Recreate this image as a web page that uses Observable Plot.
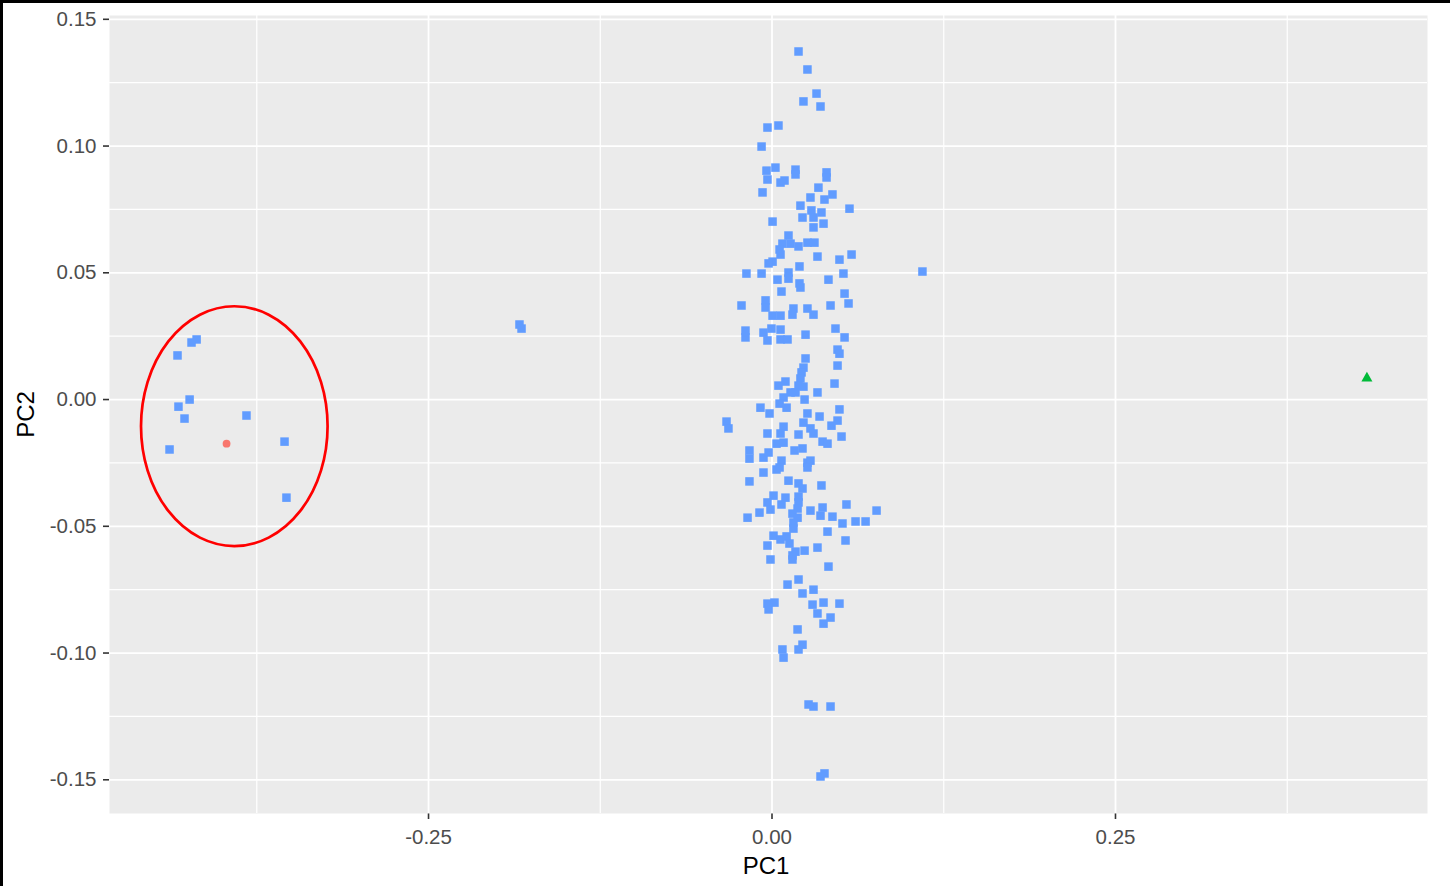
<!DOCTYPE html>
<html>
<head>
<meta charset="utf-8">
<script src="https://cdn.jsdelivr.net/npm/d3@7"></script>
<script src="https://cdn.jsdelivr.net/npm/@observablehq/plot@0.6"></script>
<style>
html, body { margin: 0; padding: 0; background: #fff; }
#wrap { position: relative; width: 1450px; height: 886px; overflow: hidden; }
#chart { position: absolute; left: 0; top: 0; }
.bt { position: absolute; left: 0; top: 0; width: 1450px; height: 3px; background: #000; }
.bl { position: absolute; left: 0; top: 0; width: 3px; height: 886px; background: #000; }
</style>
</head>
<body>
<div id="wrap"><div id="chart"></div><div class="bt"></div><div class="bl"></div></div>
<script>
// ---- Data ----
const pc1Blue = [
  0.0193, 0.0258, 0.0324, 0.0229, 0.0353, -0.0033, 0.0047, -0.0076, -0.0040, 0.0025,
  -0.0033, 0.0062, 0.0091, 0.0171, 0.0171, 0.0397, 0.0397, -0.0069, 0.0338, 0.0280,
  0.0440, 0.0382, 0.0207, 0.0564, 0.0287, 0.0360, 0.0222, 0.0302, 0.0375, 0.0004,
  0.0302, 0.0120, 0.0076, 0.0135, 0.0193, 0.0258, 0.0309, 0.0055, 0.0062, 0.0331,
  0.0579, 0.0491, 0.0004, -0.0025, 0.0200, -0.0186, -0.0076, 0.0120, 0.0120, 0.0040,
  0.0200, 0.0207, 0.0411, 0.0520, 0.0069, 0.0528, -0.0047, -0.0047, -0.0222, 0.0557,
  0.0426, 0.0004, 0.0062, 0.0156, 0.0149, 0.0258, 0.0302, -0.0193, -0.0193, -0.0062,
  -0.0033, -0.0004, 0.0062, 0.0062, 0.0113, 0.0244, 0.0462, 0.0528, 0.0477, 0.0491,
  0.0244, 0.0229, 0.0215, 0.0477, 0.0207, 0.0047, 0.0098, 0.0193, 0.0229, 0.0135,
  0.0171, 0.0331, 0.0455, 0.0084, 0.0237, -0.0084, -0.0018, 0.0055, 0.0106, 0.0258,
  0.0346, 0.0491, -0.0331, -0.0317, 0.0084, 0.0229, 0.0433, 0.0477, 0.0062, -0.0033,
  0.0193, 0.0280, 0.0302, 0.0368, 0.0404, 0.0506, -0.0164, -0.0164, -0.0062, -0.0025,
  0.0033, 0.0084, 0.0164, 0.0222, 0.0069, 0.0033, 0.0055, -0.0062, -0.0164, 0.0258,
  0.0280, 0.0258, 0.0120, 0.0193, 0.0222, 0.0360, 0.0011, -0.0033, -0.0011, 0.0098,
  0.0069, 0.0193, 0.0193, -0.0091, -0.0178, 0.0186, 0.0149, 0.0186, 0.0280, 0.0368,
  0.0353, 0.0440, 0.0542, 0.0761, 0.0513, 0.0608, 0.0681, 0.0156, 0.0156, 0.0404,
  0.0535, 0.0011, 0.0062, 0.0106, 0.0127, -0.0033, 0.0237, 0.0331, 0.0149, 0.0171,
  0.0149, -0.0011, 0.0411, 0.0193, 0.0113, 0.0302, 0.0222, 0.0375, 0.0491, 0.0295,
  -0.0033, -0.0025, 0.0018, 0.0331, 0.0426, 0.0375, 0.0186, 0.0222, 0.0193, 0.0076,
  0.0084, 0.0266, 0.0302, 0.0426, 0.0353, 0.0382, 0.1095, -0.1838, -0.1823, -0.4188,
  -0.4225, -0.4327, -0.4239, -0.4320, -0.4276, -0.3825, -0.4385, -0.3548, -0.3534
];
const pc2Blue = [
  0.1373, 0.1302, 0.1207, 0.1176, 0.1156, 0.1073, 0.1081, 0.0998, 0.0903, 0.0915,
  0.0868, 0.0856, 0.0864, 0.0907, 0.0888, 0.0896, 0.0876, 0.0817, 0.0836, 0.0797,
  0.0809, 0.0789, 0.0765, 0.0753, 0.0746, 0.0738, 0.0718, 0.0718, 0.0694, 0.0702,
  0.0679, 0.0647, 0.0615, 0.0615, 0.0604, 0.0619, 0.0619, 0.0592, 0.0572, 0.0564,
  0.0572, 0.0552, 0.0544, 0.0537, 0.0525, 0.0497, 0.0497, 0.0501, 0.0477, 0.0473,
  0.0458, 0.0442, 0.0473, 0.0497, 0.0426, 0.0418, 0.0391, 0.0363, 0.0371, 0.0379,
  0.0371, 0.0331, 0.0331, 0.0359, 0.0335, 0.0359, 0.0335, 0.0272, 0.0245, 0.0264,
  0.0233, 0.0280, 0.0276, 0.0237, 0.0237, 0.0256, 0.0280, 0.0245, 0.0197, 0.0181,
  0.0162, 0.0126, 0.0107, 0.0134, 0.0083, 0.0055, 0.0071, 0.0055, 0.0051, 0.0028,
  0.0028, 0.0028, 0.0063, 0.0008, 0.0000, -0.0032, -0.0055, -0.0016, -0.0032, -0.0055,
  -0.0067, -0.0039, -0.0087, -0.0114, -0.0107, -0.0091, -0.0103, -0.0083, -0.0134, -0.0134,
  -0.0138, -0.0114, -0.0134, -0.0166, -0.0174, -0.0146, -0.0201, -0.0233, -0.0229, -0.0209,
  -0.0174, -0.0170, -0.0201, -0.0193, -0.0241, -0.0276, -0.0268, -0.0288, -0.0323, -0.0249,
  -0.0241, -0.0268, -0.0320, -0.0331, -0.0351, -0.0339, -0.0379, -0.0406, -0.0434, -0.0387,
  -0.0414, -0.0383, -0.0406, -0.0446, -0.0466, -0.0430, -0.0450, -0.0466, -0.0438, -0.0426,
  -0.0458, -0.0462, -0.0414, -0.0438, -0.0489, -0.0481, -0.0481, -0.0485, -0.0509, -0.0521,
  -0.0556, -0.0537, -0.0552, -0.0540, -0.0568, -0.0576, -0.0596, -0.0584, -0.0615, -0.0600,
  -0.0631, -0.0631, -0.0659, -0.0710, -0.0730, -0.0750, -0.0765, -0.0801, -0.0805, -0.0809,
  -0.0805, -0.0828, -0.0801, -0.0844, -0.0860, -0.0884, -0.0907, -0.0967, -0.0986, -0.0986,
  -0.1018, -0.1203, -0.1211, -0.1211, -0.1487, -0.1475, 0.0505, 0.0296, 0.0280, 0.0237,
  0.0225, 0.0174, 0.0000, -0.0028, -0.0075, -0.0063, -0.0197, -0.0166, -0.0387
];
const pc1Red = [-0.3970];
const pc2Red = [-0.0174];
const pc1Green = [0.4330];
const pc2Green = [0.0084];

// axis ticks and grid
const xMajor = [-0.25, 0, 0.25];
const xMinor = [-0.375, -0.125, 0.125, 0.375];
const yMajor = [-0.15, -0.10, -0.05, 0, 0.05, 0.10, 0.15];
const yMinor = [-0.125, -0.075, -0.025, 0.025, 0.075, 0.125];
const xTitle = "PC1";
const yTitle = "PC2";

// annotation ellipse (data units)
const ellipseCenter = [-0.3910, -0.0107];
const ellipseRadii = [0.0679, 0.0473];

// ---- Build tables ----
const blue = pc1Blue.map((x, i) => ({x, y: pc2Blue[i]}));
const red = pc1Red.map((x, i) => ({x, y: pc2Red[i]}));
const green = pc1Green.map((x, i) => ({x, y: pc2Green[i]}));

const fmt = d => d.toFixed(2);

const chart = Plot.plot({
  width: 1450,
  height: 886,
  marginLeft: 109,
  marginRight: 23,
  marginTop: 15,
  marginBottom: 73,
  style: {fontFamily: "'Liberation Sans', Arial, sans-serif", fontSize: "20.5px", color: "#4D4D4D", background: "transparent"},
  x: {domain: [-0.4822, 0.4771], ticks: xMajor, tickFormat: fmt, tickSize: 6, tickPadding: 10, label: null},
  y: {domain: [-0.1633, 0.1515], ticks: yMajor, tickFormat: fmt, tickSize: 6, tickPadding: 7, label: null},
  marks: [
    Plot.frame({fill: "#EBEBEB", stroke: "none"}),
    Plot.ruleX(xMinor, {stroke: "#FFFFFF", strokeWidth: 1.2}),
    Plot.ruleY(yMinor, {stroke: "#FFFFFF", strokeWidth: 1.2}),
    Plot.ruleX(xMajor, {stroke: "#FFFFFF", strokeWidth: 1.8}),
    Plot.ruleY(yMajor, {stroke: "#FFFFFF", strokeWidth: 1.8}),
    Plot.dot(blue, {x: "x", y: "y", symbol: "square", r: 4.8, fill: "#619CFF"}),
    Plot.dot(red, {x: "x", y: "y", symbol: "circle", r: 3.9, fill: "#F8766D"}),
    Plot.dot(green, {x: "x", y: "y", symbol: "triangle", r: 4.1, fill: "#00BA38"}),
    Plot.text([xTitle], {text: d => d, frameAnchor: "bottom", lineAnchor: "middle", dx: -2.5, dy: 53, fontSize: 24, fill: "#000000"}),
    Plot.text([yTitle], {text: d => d, frameAnchor: "left", lineAnchor: "middle", textAnchor: "middle", dx: -83, dy: 0, rotate: -90, fontSize: 24, fill: "#000000"})
  ]
});

const svg = chart.tagName.toLowerCase() === "svg" ? chart : chart.querySelector("svg");
document.getElementById("chart").appendChild(chart);

// ticks darker like ggplot
d3.select(svg).selectAll("[aria-label$='axis'] path, [aria-label$='tick'] path").attr("stroke", "#333333").attr("stroke-width", 1.6);

// ellipse annotation using plot scales
const xs = chart.scale("x"), ys = chart.scale("y");
const sx = d3.scaleLinear().domain(xs.domain).range(xs.range);
const sy = d3.scaleLinear().domain(ys.domain).range(ys.range);
d3.select(svg).append("ellipse")
  .attr("cx", sx(ellipseCenter[0]))
  .attr("cy", sy(ellipseCenter[1]))
  .attr("rx", Math.abs(sx(ellipseCenter[0] + ellipseRadii[0]) - sx(ellipseCenter[0])))
  .attr("ry", Math.abs(sy(ellipseCenter[1] + ellipseRadii[1]) - sy(ellipseCenter[1])))
  .attr("fill", "none")
  .attr("stroke", "#FF0000")
  .attr("stroke-width", 2.7);
</script>
</body>
</html>
